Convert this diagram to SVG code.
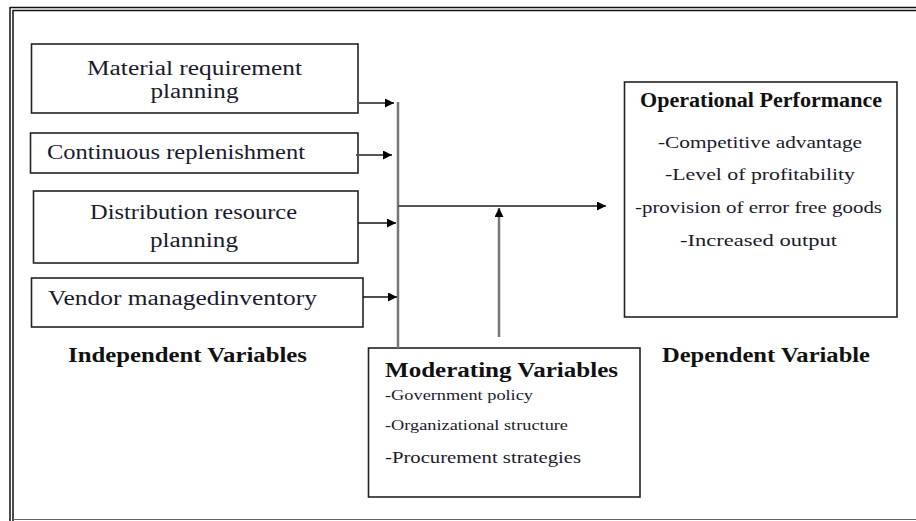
<svg xmlns="http://www.w3.org/2000/svg" width="916" height="521" viewBox="0 0 916 521">
<defs>
<marker id="ah" viewBox="0 0 10 10" refX="10" refY="5" markerWidth="12" markerHeight="9" markerUnits="userSpaceOnUse" orient="auto">
<path d="M0,0 L10,5 L0,10 z" fill="#000"/>
</marker>
</defs>
<style>
.box{fill:#fff;stroke:#222;stroke-width:1.6}
.t{font-family:"Liberation Serif","Times New Roman",serif;font-size:20px;fill:#1a1a2e}
.b{font-family:"Liberation Serif","Times New Roman",serif;font-size:20px;font-weight:bold;fill:#111}
.s{font-family:"Liberation Serif","Times New Roman",serif;font-size:15px;fill:#1a1a2e}
.m{font-family:"Liberation Serif","Times New Roman",serif;font-size:17px;fill:#1a1a2e}
.c{stroke:#777;stroke-width:2.5;fill:none}
.ca{stroke:#555;stroke-width:2;fill:none}
</style>
<rect width="916" height="521" fill="#fff"/>
<g id="frame">
<line x1="10" y1="7.5" x2="916" y2="7.5" stroke="#111" stroke-width="1.5"/>
<line x1="13" y1="10.5" x2="916" y2="10.5" stroke="#111" stroke-width="1.5"/>
<line x1="10" y1="7" x2="10" y2="521" stroke="#111" stroke-width="1.5"/>
<line x1="13" y1="10" x2="13" y2="521" stroke="#111" stroke-width="1.5"/>
<line x1="13" y1="519.5" x2="916" y2="519.5" stroke="#666" stroke-width="1.2"/>
</g>
<g id="n1">
<rect class="box" x="31.5" y="44" width="326.5" height="69"/>
<text class="t" x="194.5" y="75" text-anchor="middle" textLength="215" lengthAdjust="spacingAndGlyphs">Material requirement</text>
<text class="t" x="194.5" y="98" text-anchor="middle" textLength="88" lengthAdjust="spacingAndGlyphs">planning</text>
</g>
<g id="n2">
<rect class="box" x="30.5" y="133" width="327.5" height="40"/>
<text class="t" x="47" y="159" textLength="258" lengthAdjust="spacingAndGlyphs">Continuous replenishment</text>
</g>
<g id="n3">
<rect class="box" x="33.5" y="191" width="324.5" height="72"/>
<text class="t" x="193.5" y="219" text-anchor="middle" textLength="207" lengthAdjust="spacingAndGlyphs">Distribution resource</text>
<text class="t" x="194" y="247" text-anchor="middle" textLength="88" lengthAdjust="spacingAndGlyphs">planning</text>
</g>
<g id="n4">
<rect class="box" x="31.5" y="278" width="331.5" height="49"/>
<text class="t" x="48" y="305" textLength="269" lengthAdjust="spacingAndGlyphs">Vendor managedinventory</text>
</g>
<g id="label-independent">
<text class="b" x="68" y="362" font-size="19" textLength="239" lengthAdjust="spacingAndGlyphs">Independent Variables</text>
</g>
<g id="n-moderating">
<rect class="box" x="368.5" y="348" width="271.5" height="149"/>
<text class="b" x="385" y="377" textLength="233" lengthAdjust="spacingAndGlyphs">Moderating Variables</text>
<text class="s" x="385" y="400" textLength="148" lengthAdjust="spacingAndGlyphs">-Government policy</text>
<text class="s" x="385" y="430" textLength="183" lengthAdjust="spacingAndGlyphs">-Organizational structure</text>
<text class="m" x="385" y="463" textLength="196" lengthAdjust="spacingAndGlyphs">-Procurement strategies</text>
</g>
<g id="n-operational">
<rect class="box" x="624.5" y="82" width="272.5" height="235"/>
<text class="b" x="761" y="107" text-anchor="middle" font-size="19" textLength="242" lengthAdjust="spacingAndGlyphs">Operational Performance</text>
<text class="m" x="760" y="148" text-anchor="middle" textLength="204" lengthAdjust="spacingAndGlyphs">-Competitive advantage</text>
<text class="m" x="760" y="180" text-anchor="middle" textLength="190" lengthAdjust="spacingAndGlyphs">-Level of profitability</text>
<text class="m" x="758.5" y="213" text-anchor="middle" textLength="247" lengthAdjust="spacingAndGlyphs">-provision of error free goods</text>
<text class="m" x="758.5" y="246" text-anchor="middle" textLength="157" lengthAdjust="spacingAndGlyphs">-Increased output</text>
</g>
<g id="label-dependent">
<text class="b" x="662" y="362" font-size="19" textLength="208" lengthAdjust="spacingAndGlyphs">Dependent Variable</text>
</g>
<g id="connectors">
<line class="c" x1="398" y1="102" x2="398" y2="348"/>
<line class="ca" x1="358" y1="103" x2="394" y2="103" marker-end="url(#ah)"/>
<line class="ca" x1="356" y1="155" x2="392" y2="155" marker-end="url(#ah)"/>
<line x1="358" y1="223" x2="396" y2="223" stroke="#111" stroke-width="1.5" marker-end="url(#ah)"/>
<line x1="363" y1="297" x2="397" y2="297" stroke="#111" stroke-width="1.5" marker-end="url(#ah)"/>
<line class="ca" x1="398" y1="206" x2="606" y2="206" marker-end="url(#ah)"/>
<line class="c" x1="499" y1="337" x2="499" y2="208" marker-end="url(#ah)"/>
</g>
</svg>
